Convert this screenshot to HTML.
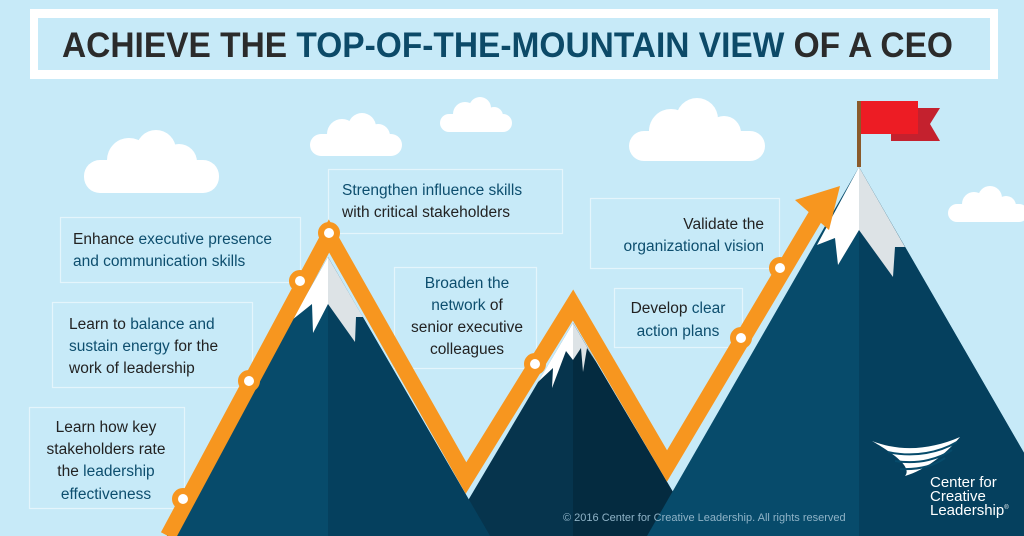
<!DOCTYPE html>
<html><head><meta charset="utf-8"><style>
html,body{margin:0;padding:0;background:#c7eaf8;}
svg{display:block;}
text{font-family:"Liberation Sans","DejaVu Sans",sans-serif;}
.t{font-size:15.5px;fill:#222;}
.b{fill:#0d4e6e;}
</style></head><body>
<svg width="1024" height="536" viewBox="0 0 1024 536" xmlns="http://www.w3.org/2000/svg">
<rect width="1024" height="536" fill="#c7eaf8"/>
<rect x="30" y="9" width="968" height="70" fill="#fff"/>
<rect x="38" y="18" width="952" height="52" fill="#c7eaf8"/>
<text x="62" y="57" font-family="Liberation Sans Narrow, Liberation Sans, sans-serif" font-weight="bold" font-size="35" textLength="891" lengthAdjust="spacingAndGlyphs" fill="#2b2b2b">ACHIEVE THE <tspan fill="#0c4a68">TOP-OF-THE-MOUNTAIN VIEW</tspan> OF A CEO</text>
<g fill="#fff">
<g transform="translate(84,130)"><rect x="0" y="30" width="135" height="33" rx="16"/><circle cx="45" cy="30" r="22"/><circle cx="72" cy="20" r="20"/><circle cx="95" cy="32" r="18"/></g>
<g transform="translate(310,112)"><rect x="0" y="22" width="92" height="22" rx="11"/><circle cx="32" cy="22" r="15"/><circle cx="52" cy="15" r="14"/><circle cx="68" cy="24" r="12"/></g>
<g transform="translate(440,96)"><rect x="0" y="18" width="72" height="18" rx="9"/><circle cx="25" cy="18" r="12"/><circle cx="40" cy="12" r="11"/><circle cx="54" cy="20" r="9"/></g>
<g transform="translate(629,98)"><rect x="0" y="33" width="136" height="30" rx="15"/><circle cx="42" cy="33" r="22"/><circle cx="68" cy="21" r="21"/><circle cx="95" cy="35" r="17"/></g>
<g transform="translate(948,186)"><rect x="0" y="18" width="80" height="18" rx="9"/><circle cx="26" cy="18" r="12"/><circle cx="42" cy="12" r="12"/><circle cx="58" cy="20" r="10"/></g>
</g>
<g fill="none" stroke="#e4f5fc" stroke-width="1.2">
<rect x="60.5" y="217.5" width="240" height="65"/>
<rect x="52.5" y="302.5" width="200" height="85"/>
<rect x="29.5" y="407.5" width="155" height="101"/>
<rect x="328.5" y="169.5" width="234" height="64"/>
<rect x="394.5" y="267.5" width="142" height="101"/>
<rect x="590.5" y="198.5" width="189" height="70"/>
<rect x="614.5" y="288.5" width="128" height="59"/>
</g>
<text class="t" x="73" y="244">Enhance <tspan class="b">executive presence</tspan></text>
<text class="t b" x="73" y="266">and communication skills</text>
<text class="t" x="69" y="329">Learn to <tspan class="b">balance and</tspan></text>
<text class="t" x="69" y="351"><tspan class="b">sustain energy</tspan> for the</text>
<text class="t" x="69" y="373">work of leadership</text>
<g text-anchor="middle">
<text class="t" x="106" y="432">Learn how key</text>
<text class="t" x="106" y="454">stakeholders rate</text>
<text class="t" x="106" y="476">the <tspan class="b">leadership</tspan></text>
<text class="t b" x="106" y="499">effectiveness</text>
<text class="t b" x="467" y="288">Broaden the</text>
<text class="t" x="467" y="310"><tspan class="b">network</tspan> of</text>
<text class="t" x="467" y="332">senior executive</text>
<text class="t" x="467" y="354">colleagues</text>
<text class="t" x="678" y="313">Develop <tspan class="b">clear</tspan></text>
<text class="t b" x="678" y="336">action plans</text>
</g>
<text class="t b" x="342" y="195">Strengthen influence skills</text>
<text class="t" x="342" y="217">with critical stakeholders</text>
<g text-anchor="end">
<text class="t" x="764" y="229">Validate the</text>
<text class="t b" x="764" y="251">organizational vision</text>
</g>
<polygon points="447,536 573,323 699,536" fill="#06344d"/>
<polygon points="573,323 699,536 573,536" fill="#042b40"/>
<polygon points="573,323 538,382 553,368 552,388 566,351 573,360" fill="#fff"/>
<polygon points="573,323 573,360 581,348 583,372 587,348 596,362" fill="#dde3e6"/>
<polygon points="167,536 328,257 490,536" fill="#074b6b"/>
<polygon points="328,257 490,536 328,536" fill="#05405e"/>
<polygon points="328,257 292,320 312,304 313,333 328,304" fill="#fff"/>
<polygon points="328,257 328,304 355,342 356,317 363,317" fill="#dde3e6"/>
<polygon points="647,536 859,167 1072,536" fill="#074b6b"/>
<polygon points="859,167 1072,536 859,536" fill="#05405e"/>
<polygon points="859,167 817,245 835,238 838,265 859,230" fill="#fff"/>
<polygon points="859,167 859,230 893,277 895,247 905,247" fill="#dde3e6"/>
<rect x="857" y="101" width="4" height="66" fill="#8a5a2b"/>
<polygon points="891,108 940,108 930,124 940,141 891,141" fill="#c4212e"/>
<rect x="861" y="101" width="57" height="33" fill="#ed1c24"/>
<polyline points="168,536 329,236 466,478 573,305 667,466 818,212" fill="none" stroke="#f7961f" stroke-width="16" stroke-linejoin="miter" stroke-miterlimit="10"/>
<polygon points="840,186 795,200 829,230" fill="#f7961f"/>
<g fill="#fff" stroke="#f7961f" stroke-width="6">
<circle cx="183" cy="499" r="8"/>
<circle cx="249" cy="381" r="8"/>
<circle cx="300" cy="281" r="8"/>
<circle cx="329" cy="233" r="8"/>
<circle cx="535" cy="364" r="8"/>
<circle cx="741" cy="338" r="8"/>
<circle cx="780" cy="268" r="8"/>
</g>
<g fill="#fff">
<path d="M872,441 C900,452 930,450 960,437 C945,455 925,470 905,476 C910,470 905,460 872,441 Z"/>
</g>
<g stroke="#074b6b" stroke-width="2" fill="none">
<path d="M888,452 C915,458 940,452 957,442"/>
<path d="M895,461 C920,465 940,458 952,450"/>
<path d="M900,469 C920,470 935,465 945,458"/>
</g>
<g fill="#fff" font-size="15">
<text x="930" y="487">Center for</text>
<text x="930" y="501">Creative</text>
<text x="930" y="515">Leadership<tspan font-size="6" dy="-6">®</tspan></text>
</g>
<text x="563" y="521" font-size="11" fill="#8fb3c7">© 2016 Center for Creative Leadership. All rights reserved</text>
</svg>
</body></html>
